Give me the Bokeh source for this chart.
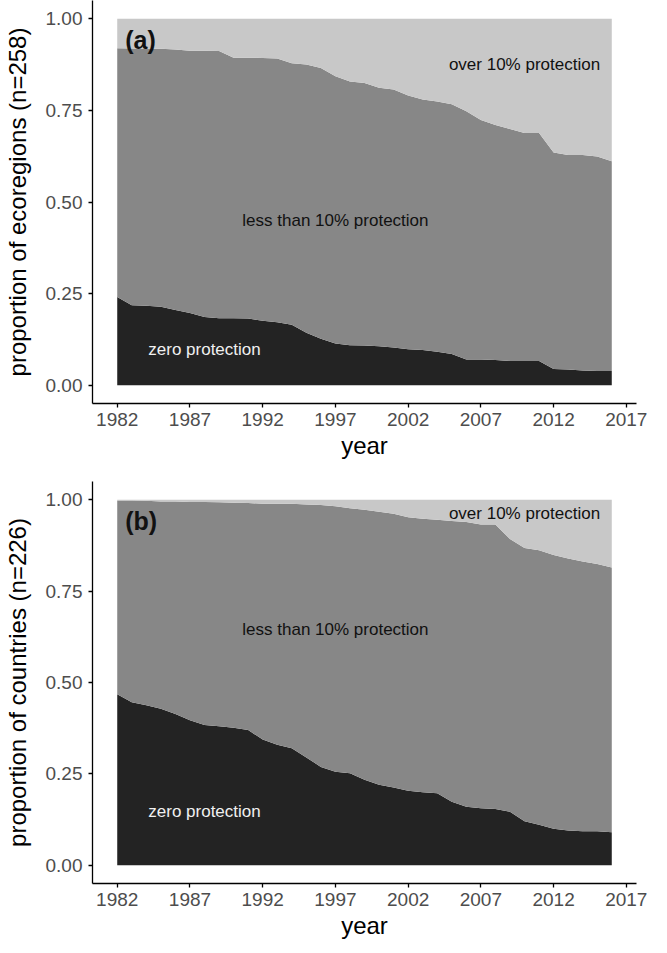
from bokeh.plotting import figure
from bokeh.layouts import column
from bokeh.models import Range1d, FixedTicker, PrintfTickFormatter, Label
from bokeh.embed import file_html
from bokeh.resources import INLINE

years = list(range(1982, 2017))

# panel (a): ecoregions (n=258) - cumulative proportions
zero_a = [0.241, 0.218, 0.217, 0.214, 0.205, 0.197, 0.186, 0.183, 0.183, 0.182,
          0.176, 0.172, 0.165, 0.143, 0.127, 0.114, 0.109, 0.108, 0.106, 0.103,
          0.098, 0.096, 0.091, 0.085, 0.070, 0.070, 0.069, 0.066, 0.066, 0.066,
          0.044, 0.043, 0.040, 0.039, 0.039]
below10_a = [0.920, 0.919, 0.918, 0.918, 0.916, 0.913, 0.913, 0.912, 0.894, 0.894,
             0.893, 0.892, 0.879, 0.875, 0.866, 0.843, 0.829, 0.825, 0.812, 0.807,
             0.791, 0.780, 0.774, 0.767, 0.748, 0.724, 0.710, 0.699, 0.688, 0.688,
             0.635, 0.628, 0.628, 0.624, 0.611]

# panel (b): countries (n=226) - cumulative proportions
zero_b = [0.468, 0.446, 0.438, 0.428, 0.414, 0.397, 0.384, 0.380, 0.376, 0.370,
          0.344, 0.330, 0.320, 0.295, 0.269, 0.256, 0.252, 0.234, 0.220, 0.213,
          0.204, 0.200, 0.197, 0.174, 0.160, 0.156, 0.154, 0.146, 0.120, 0.111,
          0.100, 0.095, 0.093, 0.093, 0.090]
below10_b = [0.998, 0.998, 0.997, 0.995, 0.995, 0.994, 0.994, 0.993, 0.992, 0.991,
             0.989, 0.989, 0.989, 0.987, 0.986, 0.982, 0.977, 0.973, 0.967, 0.962,
             0.952, 0.948, 0.945, 0.942, 0.939, 0.932, 0.932, 0.893, 0.868, 0.862,
             0.849, 0.839, 0.831, 0.824, 0.815]

x_ticks = [1982, 1987, 1992, 1997, 2002, 2007, 2012, 2017]
y_ticks = [0.0, 0.25, 0.5, 0.75, 1.0]

C_ZERO = "#232323"
C_LESS = "#878787"
C_OVER = "#C8C8C8"
FONT = "Liberation Sans"


def make_panel(zero, below, ylabel, tag, top_border, bottom_border, frame_h,
               over_y, less_y, zero_y):
    p = figure(frame_width=544, frame_height=frame_h, output_backend="svg",
               toolbar_location=None, min_border_left=90, min_border_right=17,
               min_border_top=top_border, min_border_bottom=bottom_border,
               x_range=Range1d(1980.3, 2017.7), y_range=Range1d(-0.05, 1.05))
    ones = [1.0] * len(years)
    zeros = [0.0] * len(years)
    p.varea(x=years, y1=zeros, y2=zero, fill_color=C_ZERO)
    p.varea(x=years, y1=zero, y2=below, fill_color=C_LESS)
    p.varea(x=years, y1=below, y2=ones, fill_color=C_OVER)

    p.grid.visible = False
    p.outline_line_color = None
    p.background_fill_color = "white"
    p.border_fill_color = "white"

    for ax in (p.xaxis[0], p.yaxis[0]):
        ax.axis_line_color = "black"
        ax.axis_line_width = 1.3
        ax.major_tick_line_color = "black"
        ax.major_tick_line_width = 1.3
        ax.major_tick_in = 0
        ax.major_tick_out = 4
        ax.minor_tick_line_color = None
        ax.major_label_text_color = "#4D4D4D"
        ax.major_label_text_font = FONT
        ax.major_label_text_font_size = "19px"
        ax.major_label_text_line_height = 1.0
        ax.axis_label_text_font = FONT
        ax.axis_label_text_font_size = "24px"
        ax.axis_label_text_line_height = 1.0
        ax.axis_label_text_font_style = "normal"
        ax.axis_label_text_color = "black"
    p.xaxis.ticker = FixedTicker(ticks=x_ticks)
    p.xaxis.formatter = PrintfTickFormatter(format="%d")
    p.yaxis.ticker = FixedTicker(ticks=y_ticks)
    p.yaxis.formatter = PrintfTickFormatter(format="%.2f")
    p.xaxis.axis_label = "year"
    p.yaxis.axis_label = ylabel
    p.xaxis.major_label_standoff = 5
    p.yaxis.major_label_standoff = 6
    p.xaxis.axis_label_standoff = 3
    p.yaxis.axis_label_standoff = 12

    p.add_layout(Label(x=1982.55, y=0.941, text=tag, text_font=FONT,
                       text_font_size="25px", text_font_style="bold",
                       text_color="#111111", text_align="left",
                       text_baseline="middle"))
    p.add_layout(Label(x=2010, y=over_y, text="over 10% protection", text_font=FONT,
                       text_font_size="17px", text_color="#111111",
                       text_align="center", text_baseline="middle"))
    p.add_layout(Label(x=1997, y=less_y, text="less than 10% protection", text_font=FONT,
                       text_font_size="17px", text_color="#111111",
                       text_align="center", text_baseline="middle"))
    p.add_layout(Label(x=1988, y=zero_y, text="zero protection", text_font=FONT,
                       text_font_size="17px", text_color="#F0F0F0",
                       text_align="center", text_baseline="middle"))
    return p


pa = make_panel(zero_a, below10_a, "proportion of ecoregions (n=258)", "(a)",
                0, 70, 403, 0.876, 0.45, 0.097)
pb = make_panel(zero_b, below10_b, "proportion of countries (n=226)", "(b)",
                8, 54, 402, 0.962, 0.645, 0.147)

layout = column(pa, pb, spacing=0)
open("out.html", "w").write(file_html(layout, INLINE))
